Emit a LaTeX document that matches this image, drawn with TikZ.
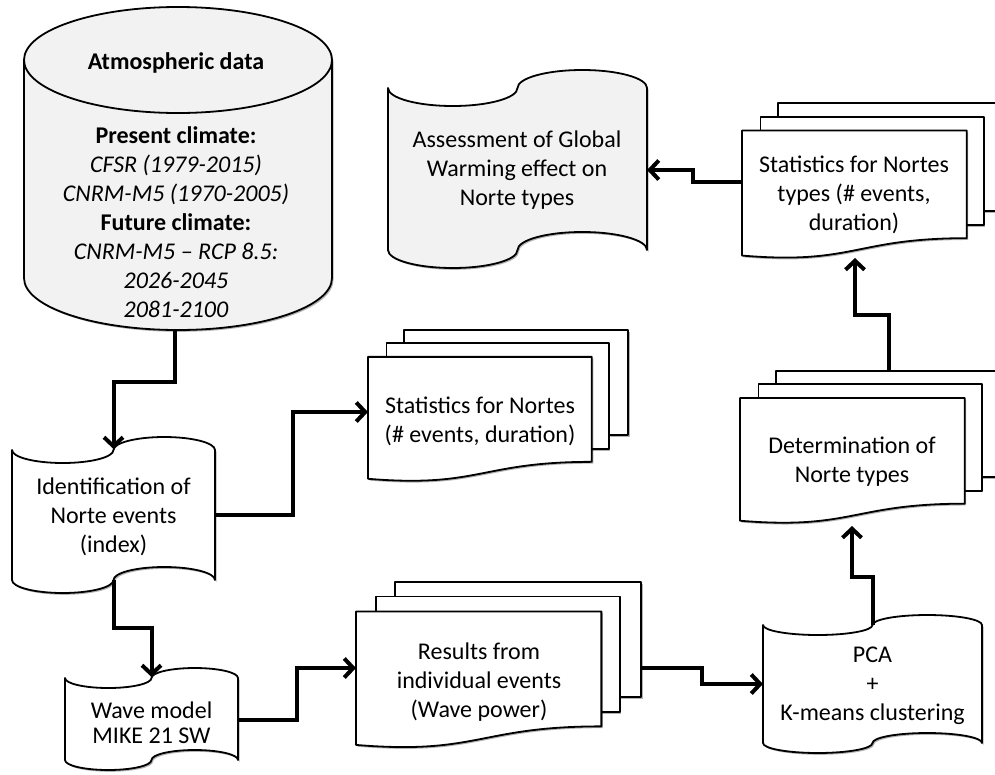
\documentclass[tikz,border=0pt]{standalone}
\usepackage{fontspec}
\setmainfont{Carlito}
\usetikzlibrary{arrows.meta,shadows}
\definecolor{shapefill}{HTML}{F2F2F2}

% punched-tape shape: #1 style, #2 x0, #3 top corner y, #4 width, #5 bottom corner y, #6 wave amplitude
\newcommand{\tapeshape}[6]{%
\path[#1] (#2,#3)
 .. controls (#2,{#3+0.5523*#6}) and ({#2+0.1119*#4},{#3+#6}) .. ({#2+0.25*#4},{#3+#6})
 .. controls ({#2+0.3881*#4},{#3+#6}) and ({#2+0.5*#4},{#3+0.5523*#6}) .. ({#2+0.5*#4},{#3})
 .. controls ({#2+0.5*#4},{#3-0.5523*#6}) and ({#2+0.6119*#4},{#3-#6}) .. ({#2+0.75*#4},{#3-#6})
 .. controls ({#2+0.8881*#4},{#3-#6}) and ({#2+#4},{#3-0.5523*#6}) .. ({#2+#4},{#3})
 -- ({#2+#4},{#5})
 .. controls ({#2+#4},{#5-0.5523*#6}) and ({#2+0.8881*#4},{#5-#6}) .. ({#2+0.75*#4},{#5-#6})
 .. controls ({#2+0.6119*#4},{#5-#6}) and ({#2+0.5*#4},{#5-0.5523*#6}) .. ({#2+0.5*#4},{#5})
 .. controls ({#2+0.5*#4},{#5+0.5523*#6}) and ({#2+0.3881*#4},{#5+#6}) .. ({#2+0.25*#4},{#5+#6})
 .. controls ({#2+0.1119*#4},{#5+#6}) and (#2,{#5+0.5523*#6}) .. (#2,#5)
 -- cycle;}

% multidocument shape: #1 style, #2 x0, #3 y0, #4 W, #5 H
\newcommand{\multidoc}[5]{%
\path[#1] ({#2+0.1376*#4},{#3}) rectangle ({#2+#4},{#3+0.6663*#5});
\path[#1] ({#2+0.0709*#4},{#3+0.0840*#5}) rectangle ({#2+0.9259*#4},{#3+0.7524*#5});
\path[#1] (#2,{#3+0.1701*#5}) -- ({#2+0.8609*#4},{#3+0.1701*#5}) -- ({#2+0.8609*#4},{#3+0.8344*#5})
  .. controls ({#2+0.4305*#4},{#3+0.8344*#5}) and ({#2+0.4305*#4},{#3+#5}) .. (#2,{#3+0.9417*#5}) -- cycle;}

\tikzset{
  shp/.style={draw=black, line width=1.8pt, line join=round, fill=white,
    drop shadow={shadow xshift=1.5pt, shadow yshift=-1.8pt, opacity=.3, fill=black}},
  grayshp/.style={shp, fill=shapefill},
  txt/.style={inner sep=0pt, align=center, font=\fontsize{24}{29}\selectfont},
  conn/.style={line width=4pt, line join=miter, -{Straight Barb[length=9pt,width=19pt]}},
}

\begin{document}
\begin{tikzpicture}[x=1pt,y=-1pt]
\useasboundingbox (0,0) rectangle (995,774);

% ---- cylinder: Atmospheric data ----
\path[grayshp] (24,60) -- (24,278)
  .. controls (24,{278+0.5523*52}) and ({178-0.5523*154},330) .. (178,330)
  .. controls ({178+0.5523*154},330) and (332,{278+0.5523*52}) .. (332,278)
  -- (332,60)
  .. controls (332,{60-0.5523*53}) and ({178+0.5523*154},7) .. (178,7)
  .. controls ({178-0.5523*154},7) and (24,{60-0.5523*53}) .. (24,60) -- cycle;
\draw[line width=1.8pt] (24,60)
  .. controls (24,{60+0.5523*53}) and ({178-0.5523*154},113) .. (178,113)
  .. controls ({178+0.5523*154},113) and (332,{60+0.5523*53}) .. (332,60);
\node[txt] (atmtitle) at (176,63) {\textbf{Atmospheric data}};
\node[txt] (atmbody) at (176,222) {\textbf{Present climate:}\\ \textit{CFSR (1979-2015)}\\ \textit{CNRM-M5 (1970-2005)}\\ \textbf{Future climate:}\\ \textit{CNRM-M5 – RCP 8.5:}\\ \textit{2026-2045}\\ \textit{2081-2100}};

% ---- tapes ----
\tapeshape{grayshp}{388}{88}{259}{250}{18}
\node[txt] (ass) at (517,170) {Assessment of Global\\ Warming effect on\\ Norte types};

\tapeshape{shp}{12}{450}{203}{580}{13}
\node[txt] (idf) at (113.5,517) {Identification of\\ Norte events\\ (index)};

\tapeshape{shp}{65}{678}{173}{760}{10}
\node[txt, font=\fontsize{24}{25}\selectfont] (wave) at (151.5,723) {Wave model\\ MIKE 21 SW};

\tapeshape{shp}{763}{625}{219}{743}{10}
\node[txt] (pca) at (872.5,686) {PCA\\ +\\ K-means clustering};

% ---- multidocuments ----
\multidoc{shp}{368}{330}{260}{158}
\node[txt] (stn) at (480,421) {Statistics for Nortes\\ (\# events, duration)};

\multidoc{shp}{356}{582}{285}{173}
\node[txt] (res) at (479,682) {Results from\\ individual events\\ (Wave power)};

\multidoc{shp}{740}{371}{261}{159}
\node[txt] (det) at (852,462) {Determination of\\ Norte types};

\multidoc{shp}{742}{103}{261}{162}
\node[txt] (stt) at (854,195) {Statistics for Nortes\\ types (\# events,\\ duration)};

% ---- connection points ----
\coordinate (atmB) at (175,330);
\coordinate (idfT) at (113.5,449);
\coordinate (idfR) at (215,515);
\coordinate (idfB) at (113.5,580);
\coordinate (stnL) at (368,412);
\coordinate (waveT) at (151.5,677);
\coordinate (waveR) at (238,720);
\coordinate (resL) at (356,668);
\coordinate (resR) at (641,668);
\coordinate (pcaL) at (763,684);
\coordinate (pcaT) at (872.5,625);
\coordinate (detB) at (852,526);
\coordinate (detT) at (889,371);
\coordinate (sttB) at (855,258);
\coordinate (sttL) at (742,182);
\coordinate (assR) at (647,170);

% ---- connectors ----
\draw[conn] (atmB) -- ++(0,52) -| (idfT);
\draw[conn] (idfR) -- ++(78,0) |- (stnL);
\draw[conn] (idfB) -- ++(0,48) -| (waveT);
\draw[conn] (waveR) -- ++(59,0) |- (resL);
\draw[conn] (resR) -- ++(61,0) |- (pcaL);
\draw[conn] (pcaT) -- ++(0,-48) -| (detB);
\draw[conn] (detT) -- ++(0,-56) -| (sttB);
\draw[conn] (sttL) -- ++(-49,0) |- (assR);
\end{tikzpicture}
\end{document}
